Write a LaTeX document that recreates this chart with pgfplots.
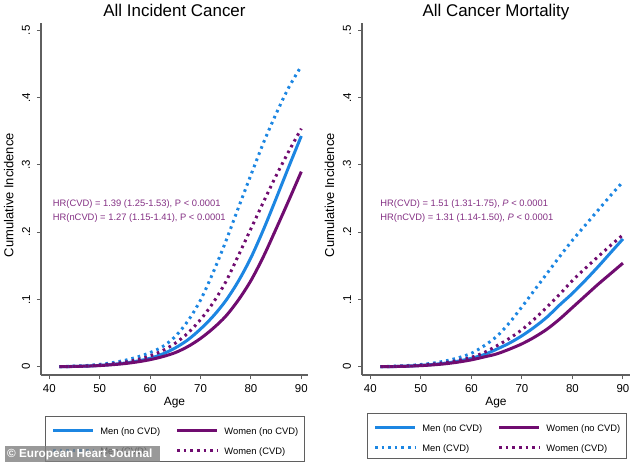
\documentclass[border=0pt]{standalone}
\usepackage{pgfplots}
\pgfplotsset{compat=1.18}
\usepackage{fontspec}
\usepackage{graphicx}
\setmainfont{Liberation Sans}
\definecolor{menblue}{RGB}{28,134,226}
\definecolor{wompurple}{RGB}{112,12,112}
\definecolor{hrpurple}{RGB}{132,48,132}
\definecolor{axgray}{RGB}{95,95,95}
\tikzset{hr/.style={anchor=west, text=hrpurple, font=\fontsize{9.4}{10}\selectfont, inner sep=0pt}}
\newcommand{\rl}[1]{\rotatebox{90}{#1}}
\pgfplotsset{
 every axis title shift=0pt,
 panel/.style={
  scale only axis, width=267bp, height=352bp,
  xmin=38.35, xmax=91.33, ymin=-0.0123, ymax=0.511,
  axis x line*=bottom, axis y line*=left,
  axis line style={-, axgray, line width=1.1bp},
  xtick={40,50,60,70,80,90}, xticklabels={40,50,60,70,80,90},
  ytick={0,0.1,0.2,0.3,0.4,0.5}, yticklabels={\rl{0},\rl{.1},\rl{.2},\rl{.3},\rl{.4},\rl{.5}},
  tick align=outside, major tick length=4bp,
  tick style={axgray, line width=1bp},
  xticklabel style={font=\fontsize{11.5}{12}\selectfont, anchor=north, inner sep=0pt, yshift=-5bp},
  yticklabel style={font=\fontsize{11.5}{12}\selectfont, anchor=east, inner sep=0pt, xshift=-6.7bp},
  xlabel={Age}, ylabel={Cumulative Incidence},
  xlabel style={font=\fontsize{12}{13}\selectfont, at={(axis description cs:0.5,-0.0781)}, anchor=center},
  ylabel style={font=\fontsize{13}{14}\selectfont, at={(axis description cs:-0.121,0.511)}, anchor=center},
  title style={font=\fontsize{17}{19}\selectfont, at={(axis description cs:0.5,1.018)}, anchor=base},
  legend columns=2,
  legend cell align=left,
  legend style={anchor=north west, draw=axgray, line width=1bp, fill=white,
    inner xsep=6bp, inner ysep=7.7bp, font=\fontsize{9.4}{10}\selectfont, row sep=10bp,
    nodes={inner sep=0pt, text height=10bp, text depth=0bp, anchor=base west},
    /tikz/every odd column/.append style={column sep=5.8bp},
    /tikz/every even column/.append style={column sep=15.5bp}},
  legend image code/.code={\draw[#1] (0bp,3.4bp) -- (40bp,3.4bp);},
 },
 menno/.style={color=menblue, line width=3bp, smooth},
 womno/.style={color=wompurple, line width=3bp, smooth},
 menc/.style={color=menblue, line width=3bp, dash pattern=on 2.6bp off 4bp, smooth},
 womc/.style={color=wompurple, line width=3bp, dash pattern=on 2.6bp off 4bp, smooth},
}
\begin{document}
\begin{tikzpicture}
\useasboundingbox (-41bp,-87bp) rectangle (593bp,375bp);
\begin{axis}[panel, at={(0,0)}, anchor=south west, title={All Incident Cancer},
  legend style={at={(axis description cs:0.015,-0.1165)}}]
\addplot[menno] coordinates {(42,0) (45,0.0005) (47.5,0.001) (50,0.002) (52.5,0.0035) (55,0.0055) (57.5,0.0085) (60,0.0125) (62.5,0.019) (65,0.028) (67.5,0.04) (70,0.056) (72.5,0.075) (75,0.098) (77.5,0.127) (80,0.162) (82.5,0.204) (85,0.25) (87.5,0.297) (90,0.343)};
\addlegendentry{Men (no CVD)}
\addplot[womno] coordinates {(42,0) (45,0.0004) (47.5,0.0009) (50,0.0017) (52.5,0.003) (55,0.0047) (57.5,0.0072) (60,0.0105) (62.5,0.015) (65,0.021) (67.5,0.03) (70,0.042) (72.5,0.057) (75,0.075) (77.5,0.099) (80,0.128) (82.5,0.164) (85,0.205) (87.5,0.247) (90,0.29)};
\addlegendentry{Women (no CVD)}
\addplot[menc] coordinates {(42,0) (45,0.0008) (47.5,0.0018) (50,0.0035) (52.5,0.006) (55,0.0095) (57.5,0.0145) (60,0.021) (62.5,0.03) (65,0.045) (67.5,0.068) (70,0.099) (72.5,0.14) (75,0.186) (77.5,0.236) (80,0.285) (82.5,0.333) (85,0.376) (87.5,0.415) (90,0.447)};
\addlegendentry{Men (CVD)}
\addplot[womc] coordinates {(42,0) (45,0.0006) (47.5,0.0013) (50,0.0025) (52.5,0.0042) (55,0.0068) (57.5,0.0105) (60,0.016) (62.5,0.024) (65,0.035) (67.5,0.05) (70,0.07) (72.5,0.095) (75,0.126) (77.5,0.165) (80,0.205) (82.5,0.245) (85,0.284) (87.5,0.32) (90,0.354)};
\addlegendentry{Women (CVD)}
\node[hr] at (axis description cs:0.0438,0.486) {HR(CVD) = 1.39 (1.25-1.53), P < 0.0001};
\node[hr] at (axis description cs:0.0438,0.445) {HR(nCVD) = 1.27 (1.15-1.41), P < 0.0001};
\end{axis}
\begin{axis}[panel, at={(321bp,0)}, anchor=south west, width=268bp, xmax=91.4, title={All Cancer Mortality},
  legend style={at={(axis description cs:0.0187,-0.108)}}]
\addplot[menno] coordinates {(42,0) (45,0.0004) (47.5,0.001) (50,0.002) (52.5,0.0035) (55,0.0055) (57.5,0.0085) (60,0.0125) (62.5,0.018) (65,0.026) (67.5,0.035) (70,0.046) (72.5,0.059) (75,0.074) (77.5,0.092) (80,0.109) (82.5,0.128) (85,0.148) (87.5,0.169) (90,0.19)};
\addlegendentry{Men (no CVD)}
\addplot[womno] coordinates {(42,0) (45,0.0003) (47.5,0.0008) (50,0.0016) (52.5,0.0028) (55,0.0045) (57.5,0.007) (60,0.0102) (62.5,0.0145) (65,0.019) (67.5,0.026) (70,0.034) (72.5,0.044) (75,0.056) (77.5,0.071) (80,0.088) (82.5,0.105) (85,0.122) (87.5,0.138) (90,0.154)};
\addlegendentry{Women (no CVD)}
\addplot[menc] coordinates {(42,0) (45,0.0008) (47.5,0.0018) (50,0.0033) (52.5,0.0055) (55,0.0088) (57.5,0.0135) (60,0.02) (62.5,0.031) (65,0.045) (67.5,0.065) (70,0.089) (72.5,0.114) (75,0.139) (77.5,0.164) (80,0.188) (82.5,0.21) (85,0.232) (87.5,0.254) (90,0.275)};
\addlegendentry{Men (CVD)}
\addplot[womc] coordinates {(42,0) (45,0.0005) (47.5,0.0012) (50,0.0023) (52.5,0.004) (55,0.0063) (57.5,0.0095) (60,0.014) (62.5,0.021) (65,0.031) (67.5,0.042) (70,0.055) (72.5,0.071) (75,0.089) (77.5,0.108) (80,0.128) (82.5,0.146) (85,0.163) (87.5,0.18) (90,0.196)};
\addlegendentry{Women (CVD)}
\node[hr] at (axis description cs:0.068,0.486) {HR(CVD) = 1.51 (1.31-1.75), \textit{P} < 0.0001};
\node[hr] at (axis description cs:0.068,0.445) {HR(nCVD) = 1.31 (1.14-1.50), \textit{P} < 0.0001};
\end{axis}
\fill[black!50, opacity=0.8] (-36bp,-87bp) rectangle (119bp,-71bp);
\node[white, font=\bfseries\fontsize{11.8}{12}\selectfont, anchor=west, inner sep=0pt] at (-34bp,-79bp) {© European Heart Journal};
\end{tikzpicture}
\end{document}
